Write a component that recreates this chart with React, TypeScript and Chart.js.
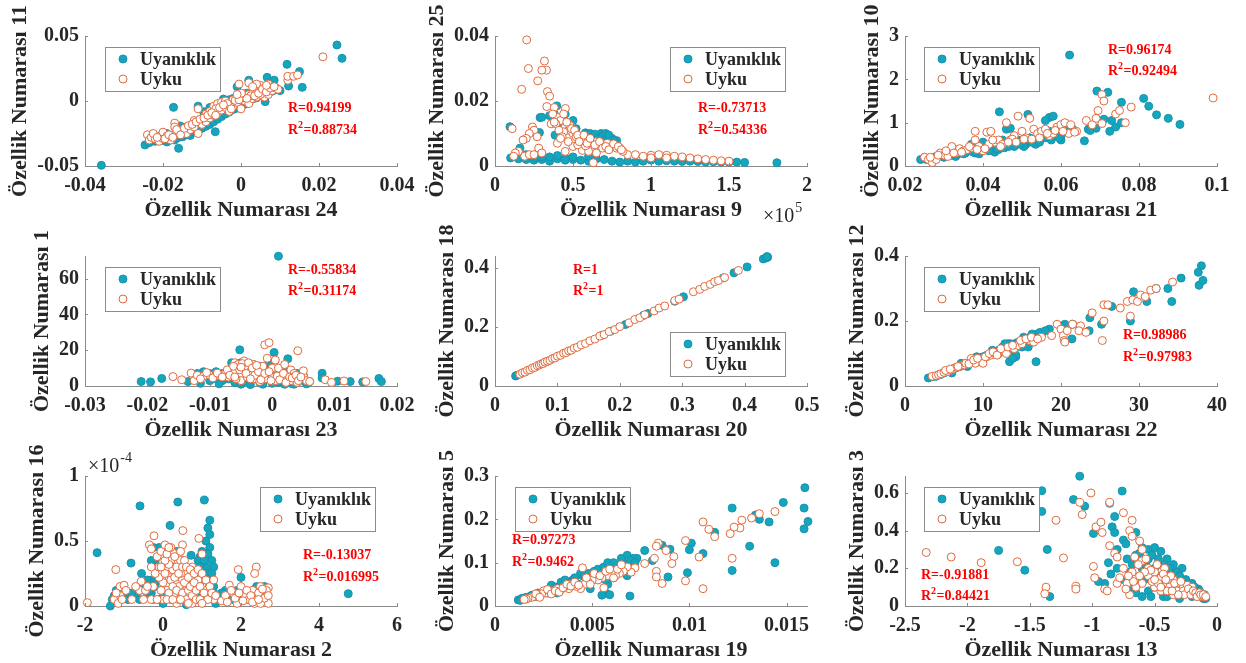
import React, { useEffect, useRef } from 'react';
import { Chart, registerables } from 'chart.js';
Chart.register(...registerables);

type Pt = [number, number];

// ---------------- DATA ----------------
const seriesNames = ['Uyanıklık', 'Uyku'];

const xTitles = ['Özellik Numarası 24', 'Özellik Numarası 9', 'Özellik Numarası 21', 'Özellik Numarası 23', 'Özellik Numarası 20', 'Özellik Numarası 22', 'Özellik Numarası 2', 'Özellik Numarası 19', 'Özellik Numarası 13'];
const yTitles = ['Özellik Numarası 11', 'Özellik Numarası 25', 'Özellik Numarası 10', 'Özellik Numarası 1', 'Özellik Numarası 18', 'Özellik Numarası 12', 'Özellik Numarası 16', 'Özellik Numarası 5', 'Özellik Numarası 3'];
const rValues = ['0.94199', '-0.73713', '0.96174', '-0.55834', '1', '0.98986', '-0.13037', '0.97273', '-0.91881'];
const r2Values = ['0.88734', '0.54336', '0.92494', '0.31174', '1', '0.97983', '0.016995', '0.9462', '0.84421'];

const xLimits: Pt[] = [[-0.04, 0.04], [0, 2e5], [0.02, 0.1], [-0.03, 0.02], [0, 0.5], [0, 40], [-2, 6], [0, 0.01605], [-2.5, 0]];
const yLimits: Pt[] = [[-0.05, 0.05], [0, 0.04], [0, 3], [0, 72.6], [0, 0.44], [0, 0.4], [0, 1e-4], [0, 0.3], [0, 0.69]];

const xTickValues = [[-0.04, -0.02, 0, 0.02, 0.04], [0, 0.5e5, 1e5, 1.5e5, 2e5], [0.02, 0.04, 0.06, 0.08, 0.1], [-0.03, -0.02, -0.01, 0, 0.01, 0.02], [0, 0.1, 0.2, 0.3, 0.4, 0.5], [0, 10, 20, 30, 40], [-2, 0, 2, 4, 6], [0, 0.005, 0.01, 0.015], [-2.5, -2, -1.5, -1, -0.5, 0]];
const xTickLabels = [['-0.04', '-0.02', '0', '0.02', '0.04'], ['0', '0.5', '1', '1.5', '2'], ['0.02', '0.04', '0.06', '0.08', '0.1'], ['-0.03', '-0.02', '-0.01', '0', '0.01', '0.02'], ['0', '0.1', '0.2', '0.3', '0.4', '0.5'], ['0', '10', '20', '30', '40'], ['-2', '0', '2', '4', '6'], ['0', '0.005', '0.01', '0.015'], ['-2.5', '-2', '-1.5', '-1', '-0.5', '0']];
const yTickValues = [[-0.05, 0, 0.05], [0, 0.02, 0.04], [0, 1, 2, 3], [0, 20, 40, 60], [0, 0.2, 0.4], [0, 0.2, 0.4], [0, 0.5e-4, 1e-4], [0, 0.1, 0.2, 0.3], [0, 0.2, 0.4, 0.6]];
const yTickLabels = [['-0.05', '0', '0.05'], ['0', '0.02', '0.04'], ['0', '1', '2', '3'], ['0', '20', '40', '60'], ['0', '0.2', '0.4'], ['0', '0.2', '0.4'], ['0', '0.5', '1'], ['0', '0.1', '0.2', '0.3'], ['0', '0.2', '0.4', '0.6']];
const axisExponents = ['', '5', '', '', '', '', '-4', '', ''];

const p1Awake: Pt[] = [
  [-0.0358, -0.0495], [0.0246, 0.0431], [0.0259, 0.0328], [0.0118, 0.0282], [0.015, 0.0226], [0.0157, 0.0105], [0.0122, 0.0115], [0.0067, 0.0182], [0.008, 0.015], [0.0085, 0.016], [0.002, 0.016], [-0.0173, -0.0049], [-0.0156, -0.0192], [-0.0246, -0.0338], [-0.016, -0.0364], [-0.0066, -0.0236], [0.0062, -0.0005], [-0.001, 0.011], [0.01, 0.008],
  [-0.0235, -0.032], [-0.022, -0.031], [-0.0205, -0.0305], [-0.019, -0.0315], [-0.018, -0.0295], [-0.017, -0.03], [-0.016, -0.028], [-0.015, -0.0275], [-0.014, -0.026], [-0.013, -0.0265], [-0.012, -0.0235], [-0.011, -0.0225], [-0.01, -0.021], [-0.009, -0.0195], [-0.008, -0.018], [-0.007, -0.016], [-0.006, -0.014], [-0.005, -0.012], [-0.004, -0.01], [-0.003, -0.0085], [-0.002, -0.0065], [-0.001, -0.0055], [0, -0.0035], [0.001, -0.0025], [0.002, -0.0005], [0.003, 0.0015], [0.004, 0.0025], [0.005, 0.0045], [0.006, 0.0055], [0.007, 0.0065], [0.008, 0.0075], [0.009, 0.009], [-0.0096, -0.0082], [-0.008, -0.005], [-0.005, -0.002], [-0.003, 0.001], [-0.004, -0.004], [0, 0.004], [-0.002, 0.002], [-0.011, -0.004], [-0.0045, 0.0015], [0.0015, 0.006], [0.0035, 0.008], [-0.014, -0.02], [-0.019, -0.025],
];
const p1Sleep: Pt[] = [
  [-0.024, -0.026], [-0.0235, -0.03], [-0.023, -0.028], [-0.022, -0.029], [-0.021, -0.031], [-0.021, -0.027], [-0.02, -0.029], [-0.02, -0.024], [-0.019, -0.027], [-0.018, -0.03], [-0.017, -0.017], [-0.017, -0.02], [-0.017, -0.026], [-0.016, -0.024], [-0.015, -0.023], [-0.014, -0.025], [-0.013, -0.022], [-0.012, -0.02], [-0.012, -0.015], [-0.011, -0.025], [-0.011, -0.006], [-0.01, -0.018], [-0.009, -0.016], [-0.009, -0.01], [-0.008, -0.013], [-0.008, -0.008], [-0.007, -0.011], [-0.007, -0.004], [-0.006, -0.009], [-0.006, -0.002], [-0.005, -0.007], [-0.005, -0.001], [-0.004, -0.005], [-0.004, 0], [-0.003, -0.003], [-0.003, -0.008], [-0.002, -0.004], [-0.002, 0.001], [-0.001, -0.001], [-0.001, 0.003], [0, 0.002], [0, -0.006], [-0.0005, 0.013], [0.001, 0.004], [0.001, 0], [0.002, 0.005], [0.002, -0.002], [0.003, 0.006], [0.003, 0.002], [0.004, 0.003], [0.004, 0.009], [0.005, 0.007], [0.005, 0.012], [0.006, 0.003], [0.006, 0.01], [0.007, 0.005], [0.007, 0.013], [0.008, 0.008], [0.009, 0.01], [0.0095, 0.009], [0.012, 0.016], [0.012, 0.019], [0.0135, 0.019], [0.0145, 0.02], [0.021, 0.034], [0.002, 0.014], [0.004, 0.013], [0.005, 0.005], [-0.0065, -0.006], [-0.0035, -0.002], [-0.0015, 0.0005], [0.0005, 0.0025], [0.0025, 0.004],
  [-0.0225, -0.025], [-0.0215, -0.028], [-0.0195, -0.029], [-0.0185, -0.026], [-0.0175, -0.028], [-0.0165, -0.022], [-0.0155, -0.026], [-0.0145, -0.021], [-0.0135, -0.019], [-0.0125, -0.018], [-0.0115, -0.016], [-0.0105, -0.014], [-0.0095, -0.013], [-0.0085, -0.011], [-0.0075, -0.009], [-0.0065, -0.011], [-0.0055, -0.005], [-0.0045, -0.003], [-0.0025, -0.006], [-0.0005, 0.001], [0.0015, 0.002], [0.0035, 0.004], [0.0045, 0.006], [0.0055, 0.009], [0.0065, 0.007], [0.0075, 0.01], [0.0085, 0.011], [0.0001, 0.006], [-0.001, 0.005], [0.003, 0.011], [0.0065, 0.012],
];

const p2Awake: Pt[] = [
  [0.096e5, 0.0121], [0.1e5, 0.0025], [0.289e5, 0.0149], [0.3e5, 0.015], [0.285e5, 0.0103], [0.16e5, 0.0055], [0.396e5, 0.0185], [0.38e5, 0.016], [0.45e5, 0.016], [0.385e5, 0.0095], [0.5e5, 0.014],
  [0.55e5, 0.009], [0.58e5, 0.0102], [0.6e5, 0.0098], [0.62e5, 0.0095], [0.63e5, 0.0085], [0.65e5, 0.0092], [0.68e5, 0.01], [0.7e5, 0.0095], [0.72e5, 0.0088], [0.75e5, 0.0085], [0.78e5, 0.0078], [1.807e5, 0.001],
  [0.15e5, 0.0022], [0.2e5, 0.002], [0.25e5, 0.0018], [0.3e5, 0.002], [0.35e5, 0.0015], [0.4e5, 0.0022], [0.45e5, 0.0025], [0.5e5, 0.002], [0.55e5, 0.0018], [0.6e5, 0.0015], [0.65e5, 0.0022], [0.7e5, 0.002], [0.75e5, 0.0015], [0.8e5, 0.0012], [0.85e5, 0.0015], [0.9e5, 0.0012], [0.95e5, 0.0015], [1.0e5, 0.0018], [1.05e5, 0.0015], [1.1e5, 0.0016], [1.15e5, 0.0015], [1.2e5, 0.0014], [1.25e5, 0.0015], [1.3e5, 0.0014], [1.35e5, 0.0012], [1.4e5, 0.0013], [1.45e5, 0.0012], [1.5e5, 0.0012], [1.55e5, 0.0012], [1.6e5, 0.0011], [0.2e5, 0.0035], [0.4e5, 0.0032], [0.6e5, 0.003], [0.45e5, 0.0018], [0.3e5, 0.0028], [0.25e5, 0.0026], [0.35e5, 0.0028], [0.5e5, 0.0028],
  [0.57e5, 0.0095], [0.59e5, 0.0088], [0.61e5, 0.01], [0.64e5, 0.0098], [0.66e5, 0.0085], [0.69e5, 0.0092], [0.71e5, 0.01], [0.73e5, 0.0095], [0.76e5, 0.008], [0.42e5, 0.012], [0.48e5, 0.012], [0.52e5, 0.0115], [0.35e5, 0.0155],
];
const p2Sleep: Pt[] = [
  [0.203e5, 0.0388], [0.214e5, 0.03], [0.171e5, 0.0236], [0.317e5, 0.0323], [0.33e5, 0.0295], [0.3e5, 0.0295], [0.274e5, 0.0262], [0.336e5, 0.0229], [0.35e5, 0.0215], [0.332e5, 0.0183], [0.38e5, 0.018], [0.451e5, 0.0177], [0.24e5, 0.012], [0.25e5, 0.011], [0.22e5, 0.01], [0.27e5, 0.009], [0.28e5, 0.0055], [0.36e5, 0.013], [0.4e5, 0.015], [0.42e5, 0.014], [0.45e5, 0.012], [0.47e5, 0.011], [0.48e5, 0.0125], [0.5e5, 0.01], [0.52e5, 0.009], [0.55e5, 0.0085], [0.6e5, 0.008], [0.62e5, 0.007], [0.65e5, 0.0075], [0.68e5, 0.006], [0.7e5, 0.0065], [0.72e5, 0.007], [0.75e5, 0.006], [0.78e5, 0.0055], [0.8e5, 0.0055], [0.4e5, 0.007], [0.45e5, 0.0045], [0.5e5, 0.006], [0.56e5, 0.0048], [0.6e5, 0.0045], [0.65e5, 0.004], [0.63e5, 0.001], [0.85e5, 0.0035], [0.9e5, 0.0035], [0.95e5, 0.003], [1.0e5, 0.0033], [1.05e5, 0.0035], [1.1e5, 0.0033], [1.15e5, 0.003], [1.2e5, 0.0028], [1.25e5, 0.0025], [1.3e5, 0.0022], [1.35e5, 0.002], [1.4e5, 0.0018], [1.45e5, 0.0016], [1.5e5, 0.0015], [1.0e5, 0.0025], [1.1e5, 0.0025], [0.15e5, 0.0045], [0.13e5, 0.004], [0.12e5, 0.003], [0.19e5, 0.003], [0.2e5, 0.0085], [0.18e5, 0.008], [0.22e5, 0.0035], [0.25e5, 0.0035], [0.3e5, 0.004], [0.11e5, 0.0115], [0.44e5, 0.0105], [0.53e5, 0.0065], [0.58e5, 0.0062], [0.82e5, 0.0045],
  [0.37e5, 0.016], [0.39e5, 0.013], [0.41e5, 0.011], [0.43e5, 0.009], [0.44e5, 0.016], [0.46e5, 0.0135], [0.49e5, 0.0115], [0.51e5, 0.011], [0.53e5, 0.0095], [0.54e5, 0.0075], [0.57e5, 0.0095], [0.59e5, 0.007], [0.61e5, 0.0085], [0.64e5, 0.0065], [0.67e5, 0.0075], [0.69e5, 0.0055], [0.71e5, 0.006], [0.73e5, 0.005], [0.76e5, 0.0068], [0.79e5, 0.006], [0.81e5, 0.005], [0.42e5, 0.0085], [0.47e5, 0.0075], [0.38e5, 0.0135],
];

const p3Awake: Pt[] = [
  [0.0622, 2.56], [0.0692, 1.73], [0.072, 1.7], [0.0755, 1.47], [0.0812, 1.56], [0.0825, 1.38], [0.0845, 1.18], [0.0875, 1.1], [0.0905, 0.96], [0.0442, 1.25], [0.0515, 1.19], [0.057, 1.12], [0.058, 1.15], [0.056, 1.05], [0.062, 0.9], [0.06, 0.6], [0.066, 0.58], [0.067, 0.85], [0.069, 0.87], [0.0725, 0.8], [0.074, 0.9], [0.071, 1.08], [0.0755, 1.0], [0.073, 1.05], [0.0675, 0.82],
  [0.024, 0.15], [0.025, 0.2], [0.026, 0.18], [0.027, 0.1], [0.028, 0.22], [0.029, 0.25], [0.03, 0.2], [0.031, 0.3], [0.032, 0.25], [0.033, 0.22], [0.034, 0.3], [0.035, 0.28], [0.036, 0.35], [0.037, 0.5], [0.038, 0.3], [0.039, 0.28], [0.04, 0.55], [0.041, 0.4], [0.042, 0.45], [0.043, 0.32], [0.044, 0.38], [0.045, 0.6], [0.046, 0.85], [0.047, 0.5], [0.048, 0.45], [0.049, 0.6], [0.05, 0.55], [0.051, 0.5], [0.052, 0.65], [0.053, 0.55], [0.054, 0.6], [0.055, 0.75], [0.056, 0.65], [0.057, 0.8], [0.058, 0.72], [0.059, 0.85], [0.06, 0.7], [0.063, 0.85], [0.047, 0.87], [0.0455, 0.42], [0.0505, 0.45], [0.0535, 0.5],
  [0.0255, 0.15], [0.0275, 0.2], [0.0295, 0.22], [0.0315, 0.25], [0.0335, 0.28], [0.0355, 0.3], [0.0375, 0.32], [0.0395, 0.35], [0.0415, 0.35], [0.0435, 0.4], [0.0465, 0.45], [0.0495, 0.5], [0.0525, 0.55], [0.0545, 0.55], [0.0575, 0.6], [0.0595, 0.65],
];
const p3Sleep: Pt[] = [
  [0.025, 0.2], [0.026, 0.15], [0.027, 0.08], [0.028, 0.15], [0.029, 0.3], [0.03, 0.25], [0.031, 0.22], [0.032, 0.45], [0.033, 0.3], [0.034, 0.4], [0.035, 0.35], [0.036, 0.38], [0.037, 0.42], [0.038, 0.6], [0.038, 0.8], [0.039, 0.45], [0.04, 0.35], [0.041, 0.78], [0.042, 0.8], [0.043, 0.55], [0.044, 0.6], [0.045, 0.5], [0.046, 1.0], [0.047, 0.6], [0.048, 0.7], [0.049, 1.15], [0.05, 0.8], [0.051, 0.65], [0.052, 1.1], [0.053, 0.85], [0.054, 0.75], [0.055, 0.8], [0.056, 0.85], [0.057, 0.7], [0.058, 0.75], [0.059, 0.9], [0.06, 0.95], [0.061, 1.0], [0.062, 0.75], [0.064, 0.8], [0.0665, 1.05], [0.068, 0.95], [0.069, 1.1], [0.0695, 1.28], [0.0705, 0.98], [0.0705, 1.65], [0.071, 1.5], [0.074, 1.2], [0.075, 1.28], [0.0765, 1.0], [0.078, 1.36], [0.099, 1.57], [0.0415, 0.5], [0.0475, 0.62], [0.0525, 0.62],
  [0.0265, 0.2], [0.0285, 0.25], [0.0305, 0.35], [0.0325, 0.3], [0.0345, 0.32], [0.0365, 0.45], [0.0385, 0.38], [0.0405, 0.4], [0.0425, 0.6], [0.0445, 0.45], [0.0465, 0.55], [0.0485, 0.55], [0.0505, 0.62], [0.0545, 0.65], [0.0565, 0.75], [0.0585, 0.82], [0.0605, 0.8], [0.0625, 0.95], [0.0635, 0.78],
];

const p4Awake: Pt[] = [
  [0.001, 72.5], [-0.021, 2.5], [-0.0195, 2.3], [-0.0177, 4.2], [-0.0135, 2.5], [-0.0052, 20.2], [0.0003, 18.7], [0.0025, 15.2], [-0.0005, 13], [0.008, 7.1], [0.008, 4.5], [0.0105, 2.7], [0.0125, 2.5], [0.0145, 2.3], [0.0171, 4.2], [0.0175, 2.5], [0.006, 2.5],
  [-0.012, 7], [-0.011, 8], [-0.01, 7], [-0.009, 8], [-0.008, 3], [-0.008, 7], [-0.007, 8], [-0.006, 12], [-0.006, 2], [-0.005, 13], [-0.005, 1], [-0.004, 11], [-0.004, 3], [-0.003, 12], [-0.003, 6], [-0.002, 11], [-0.002, 2], [-0.001, 9], [-0.001, 4], [0, 7], [0, 1.5], [0.001, 5], [0.001, 2], [0.002, 8], [0.002, 3], [0.003, 6], [0.003, 1.5], [0.004, 7], [0.004, 2], [0.005, 3], [-0.007, 4], [-0.0045, 5],
  [-0.01, 3], [-0.009, 4], [-0.0065, 13], [-0.0055, 8], [-0.0045, 2.5], [-0.0025, 4], [0.0005, 9], [0.0045, 4], [0.005, 6], [0.0058, 2], [-0.0015, 1], [0.002, 1], [0.0035, 1], [-0.0115, 1.5], [-0.0085, 1.2], [-0.0035, 0.8], [0.0055, 1.2],
];
const p4Sleep: Pt[] = [
  [-0.0159, 5.25], [-0.0145, 3.5], [-0.013, 7.2], [-0.0125, 3], [-0.012, 6], [-0.011, 5.5], [-0.01, 6], [-0.009, 6.5], [-0.0085, 5.8], [-0.0075, 7], [-0.007, 5], [-0.0065, 10], [-0.006, 13], [-0.006, 8], [-0.0055, 12], [-0.005, 6], [-0.005, 3], [-0.0045, 14], [-0.004, 10], [-0.004, 5], [-0.0035, 8], [-0.003, 12], [-0.003, 4], [-0.0025, 9], [-0.002, 6], [-0.002, 2.5], [-0.0015, 11], [-0.001, 4], [-0.0012, 23], [-0.0005, 24.2], [-0.0008, 15.5], [0, 10], [0, 5], [0.0005, 14.5], [0.0005, 3], [0.001, 7], [0.001, 10], [0.0015, 5], [0.002, 4], [0.002, 12], [0.0025, 6], [0.003, 3], [0.003, 9], [0.0035, 7], [0.004, 4], [0.004, 2], [0.0041, 19.7], [0.005, 5.5], [0.005, 8.5], [0.0055, 3], [0.006, 2.5], [0.0085, 3.5], [0.0095, 2], [0.0115, 2.8], [0.015, 2.5],
  [-0.0115, 4], [-0.0105, 7.5], [-0.0095, 4.5], [-0.0088, 7.2], [-0.008, 5], [-0.0072, 9], [-0.0068, 6], [-0.0062, 11], [-0.0058, 4], [-0.0052, 9], [-0.0048, 12.5], [-0.0042, 7], [-0.0038, 13], [-0.0032, 10], [-0.0028, 6], [-0.0022, 8], [-0.0018, 3.5], [-0.0012, 7], [-0.0005, 8], [-0.0002, 3], [0.0008, 5.5], [0.0012, 3.5], [0.0018, 7], [0.0022, 2], [0.0028, 5], [0.0032, 4.5], [0.0038, 6], [0.0042, 3], [0.0046, 5], [-0.006, 5], [-0.005, 10.5], [-0.0035, 4], [-0.0025, 11.5],
];

const p5Awake: Pt[] = [
  [0.033, 0.034], [0.035, 0.036], [0.085, 0.084], [0.172, 0.172], [0.185, 0.185], [0.209, 0.208], [0.238, 0.239], [0.245, 0.245], [0.288, 0.287], [0.302, 0.302], [0.366, 0.366], [0.383, 0.383], [0.404, 0.403], [0.43, 0.43], [0.434, 0.433], [0.437, 0.436], [0.436, 0.438],
];
const p5Sleep: Pt[] = [
  [0.04, 0.04], [0.044, 0.045], [0.048, 0.047], [0.052, 0.053], [0.056, 0.055], [0.06, 0.061], [0.064, 0.063], [0.068, 0.069], [0.071, 0.071], [0.074, 0.075], [0.077, 0.076], [0.08, 0.081], [0.084, 0.084], [0.088, 0.087], [0.092, 0.093], [0.096, 0.095], [0.1, 0.101], [0.105, 0.104], [0.11, 0.111], [0.114, 0.113], [0.118, 0.119], [0.122, 0.121], [0.127, 0.128], [0.132, 0.131], [0.138, 0.139], [0.145, 0.144], [0.152, 0.153], [0.16, 0.159], [0.168, 0.169], [0.175, 0.174], [0.183, 0.184], [0.192, 0.191], [0.2, 0.201], [0.215, 0.214], [0.224, 0.225], [0.232, 0.231], [0.24, 0.241], [0.255, 0.254], [0.263, 0.264], [0.272, 0.271], [0.288, 0.289], [0.295, 0.294], [0.318, 0.319], [0.328, 0.327], [0.336, 0.337], [0.345, 0.344], [0.352, 0.353], [0.358, 0.357], [0.368, 0.367], [0.39, 0.391],
];

const p6Awake: Pt[] = [
  [38, 0.37], [37.6, 0.35], [37.7, 0.31], [38.2, 0.325], [35.4, 0.332], [33.7, 0.3], [34.2, 0.26], [32.2, 0.3], [31, 0.26], [29.3, 0.29], [28.9, 0.2], [26.5, 0.245], [25.2, 0.19], [23.7, 0.21], [23.6, 0.17], [21.4, 0.145], [20.5, 0.19], [21.5, 0.19], [16.8, 0.075], [13.4, 0.075], [14.2, 0.09], [18.5, 0.175], [17.5, 0.16], [20, 0.18],
  [3, 0.025], [3.5, 0.028], [4, 0.03], [4.5, 0.035], [5, 0.04], [5.5, 0.045], [6, 0.05], [6.5, 0.055], [7, 0.06], [7.5, 0.065], [8, 0.07], [8.5, 0.075], [9, 0.08], [9.5, 0.085], [10, 0.09], [10.5, 0.095], [11, 0.1], [11.5, 0.1], [12, 0.11], [12.5, 0.12], [13, 0.12], [13.5, 0.13], [14, 0.13], [14.5, 0.135], [15, 0.14], [15.5, 0.14], [16, 0.15], [16.5, 0.155], [17, 0.16], [6, 0.04], [8, 0.06], [10, 0.08], [12, 0.1], [14, 0.11], [15, 0.12],
  [7.2, 0.07], [9.2, 0.09], [11.2, 0.11], [13.2, 0.13], [15.2, 0.15], [16.3, 0.16], [17.3, 0.165], [18, 0.17], [15.8, 0.12], [14.2, 0.095], [13.8, 0.085], [12.8, 0.13],
];
const p6Sleep: Pt[] = [
  [3.5, 0.03], [4, 0.032], [4.3, 0.035], [4.6, 0.038], [5, 0.042], [5.5, 0.045], [6, 0.05], [6.3, 0.055], [6.6, 0.058], [7, 0.06], [7.3, 0.062], [7.6, 0.065], [8, 0.07], [8.5, 0.075], [9, 0.08], [9.5, 0.075], [10, 0.085], [10.5, 0.09], [11, 0.095], [11.5, 0.1], [12, 0.105], [12.5, 0.11], [13, 0.1], [13.5, 0.12], [14, 0.115], [14.5, 0.125], [15, 0.13], [16, 0.14], [16.5, 0.135], [17.5, 0.15], [18.8, 0.155], [19.5, 0.19], [20, 0.175], [20.3, 0.155], [20.4, 0.14], [20.5, 0.135], [20.8, 0.17], [21.5, 0.19], [22.5, 0.185], [22.3, 0.17], [23.2, 0.165], [24, 0.225], [25.3, 0.14], [25.5, 0.2], [25.5, 0.25], [26, 0.25], [27.6, 0.24], [28.5, 0.26], [28.9, 0.215], [29.2, 0.265], [29.8, 0.26], [30.2, 0.28], [30.8, 0.275], [31.5, 0.295], [32.2, 0.3], [34.3, 0.32], [9, 0.07], [10, 0.07], [8.5, 0.085],
  [5.2, 0.048], [5.8, 0.052], [6.8, 0.06], [7.8, 0.07], [8.2, 0.068], [8.8, 0.08], [9.3, 0.085], [10.3, 0.09], [10.8, 0.1], [11.3, 0.105], [11.8, 0.095], [12.3, 0.115], [13.2, 0.12], [13.8, 0.125], [14.8, 0.14], [15.5, 0.145], [16.2, 0.15], [17, 0.145],
];

const p7Awake: Pt[] = [
  [-1.69, 0.41e-4], [-0.59, 0.77e-4], [0.38, 0.8e-4], [1.06, 0.815e-4], [0.18, 0.62e-4], [-0.82, 0.33e-4], [-0.55, 0.25e-4], [1.2, 0.66e-4], [1.15, 0.6e-4], [1.2, 0.55e-4], [1.1, 0.5e-4], [1.2, 0.45e-4], [1.15, 0.4e-4], [1.0, 0.42e-4], [0.95, 0.38e-4], [1.25, 0.35e-4], [1.3, 0.3e-4], [1.1, 0.3e-4], [1.05, 0.25e-4], [0.9, 0.35e-4], [0.72, 0.39e-4], [0.35, 0.42e-4], [-0.1, 0.45e-4], [-0.2, 0.35e-4], [2.0, 0.22e-4], [4.75, 0.095e-4],
  [-1.3, 0.05e-4], [-1.35, 0.0], [-1.2, 0.12e-4], [-1.1, 0.08e-4], [-0.9, 0.05e-4], [-0.7, 0.1e-4], [-0.6, 0.05e-4], [-0.5, 0.15e-4], [-0.4, 0.08e-4], [-0.3, 0.2e-4], [-0.2, 0.15e-4], [-0.1, 0.05e-4], [0, 0.1e-4], [0.5, 0.35e-4], [0.6, 0.2e-4], [0.8, 0.15e-4], [0.9, 0.1e-4], [1.0, 0.05e-4], [1.2, 0.2e-4], [1.3, 0.15e-4], [1.4, 0.05e-4], [1.6, 0.12e-4], [1.7, 0.08e-4], [1.8, 0.05e-4], [2.1, 0.1e-4], [2.2, 0.05e-4], [2.4, 0.15e-4], [2.5, 0.08e-4], [2.6, 0.15e-4],
  [-0.3, 0.35e-4], [-0.25, 0.45e-4], [-0.2, 0.3e-4], [-0.15, 0.2e-4], [-0.3, 0.1e-4], [-0.25, 0.05e-4], [-0.4, 0.2e-4], [-0.35, 0.12e-4], [0.95, 0.3e-4], [1.05, 0.35e-4], [1.15, 0.25e-4], [1.25, 0.25e-4], [1.3, 0.1e-4], [1.0, 0.2e-4], [1.2, 0.1e-4], [0.9, 0.05e-4], [1.35, 0.02e-4], [-1.0, 0.1e-4], [-0.8, 0.1e-4], [-1.25, 0.08e-4], [-0.6, 0.12e-4], [1.5, 0.1e-4], [1.9, 0.12e-4], [2.0, 0.05e-4], [2.3, 0.1e-4], [2.5, 0.12e-4], [0.3, 0.05e-4], [0, 0.02e-4], [0.6, 0.01e-4],
];
const p7Sleep: Pt[] = [
  [-1.94, 0.026e-4], [-1.21, 0.28e-4], [-1.25, 0.05e-4], [-1.1, 0.15e-4], [-1.0, 0.16e-4], [-1.1, 0.08e-4], [-1.15, 0.02e-4], [-0.56, 0.19e-4], [-0.6, 0.12e-4], [-0.35, 0.47e-4], [-0.3, 0.44e-4], [-0.23, 0.54e-4], [-0.15, 0.38e-4], [-0.05, 0.42e-4], [0.05, 0.47e-4], [0.1, 0.3e-4], [0.15, 0.22e-4], [0.2, 0.35e-4], [0.25, 0.41e-4], [0.3, 0.3e-4], [0.4, 0.38e-4], [0.45, 0.35e-4], [0.5, 0.47e-4], [0.51, 0.58e-4], [0.92, 0.52e-4], [1.0, 0.4e-4], [0.75, 0.3e-4], [0.6, 0.25e-4], [0.5, 0.2e-4], [0.4, 0.15e-4], [0.3, 0.1e-4], [0.2, 0.05e-4], [0.1, 0.12e-4], [0, 0.18e-4], [-0.1, 0.22e-4], [0, 0.05e-4], [0.35, 0.02e-4], [0.7, 0.05e-4], [0.8, 0.1e-4], [0.9, 0.2e-4], [1.0, 0.15e-4], [1.1, 0.12e-4], [1.2, 0.08e-4], [1.3, 0.05e-4], [0.6, 0.12e-4], [0.45, 0.25e-4], [0.25, 0.28e-4], [0.15, 0.32e-4], [-0.25, 0.15e-4], [-0.45, 0.12e-4], [-0.3, 0.05e-4], [0.55, 0.05e-4], [0.75, 0.02e-4], [1.5, 0.04e-4], [1.7, 0.16e-4], [1.93, 0.28e-4], [2.0, 0.15e-4], [1.8, 0.1e-4], [2.1, 0.08e-4], [2.2, 0.05e-4], [2.3, 0.12e-4], [2.39, 0.3e-4], [2.35, 0.25e-4], [2.5, 0.15e-4], [2.6, 0.1e-4], [2.7, 0.14e-4], [2.55, 0.05e-4], [2.7, 0.02e-4], [2.35, 0.02e-4], [1.9, 0.02e-4], [1.6, 0.08e-4],
  [-0.3, 0.3e-4], [-0.2, 0.25e-4], [-0.1, 0.3e-4], [-0.05, 0.12e-4], [0.05, 0.25e-4], [0.05, 0.35e-4], [0.1, 0.4e-4], [0.15, 0.1e-4], [0.2, 0.45e-4], [0.2, 0.2e-4], [0.25, 0.15e-4], [0.3, 0.38e-4], [0.3, 0.22e-4], [0.35, 0.3e-4], [0.35, 0.12e-4], [0.4, 0.25e-4], [0.4, 0.05e-4], [0.45, 0.42e-4], [0.5, 0.3e-4], [0.5, 0.1e-4], [0.55, 0.35e-4], [0.55, 0.18e-4], [0.6, 0.3e-4], [0.6, 0.05e-4], [0.65, 0.22e-4], [0.65, 0.12e-4], [0.7, 0.28e-4], [0.7, 0.15e-4], [0.75, 0.08e-4], [0.8, 0.25e-4], [0.8, 0.18e-4], [0.85, 0.12e-4], [0.85, 0.05e-4], [0.9, 0.28e-4], [0.95, 0.15e-4], [0.95, 0.05e-4], [1.0, 0.25e-4], [1.05, 0.1e-4], [1.1, 0.2e-4], [1.15, 0.05e-4], [1.2, 0.15e-4], [1.25, 0.1e-4], [1.3, 0.2e-4], [1.35, 0.08e-4], [0.1, 0.05e-4], [0.25, 0.05e-4], [-0.15, 0.05e-4], [-0.05, 0.3e-4], [0.15, 0.45e-4], [0.45, 0.05e-4], [0.65, 0.02e-4], [1.0, 0.02e-4],
  [1.65, 0.03e-4], [1.75, 0.12e-4], [1.85, 0.06e-4], [1.95, 0.1e-4], [2.05, 0.04e-4], [2.15, 0.12e-4], [2.25, 0.08e-4], [2.3, 0.03e-4], [2.45, 0.1e-4], [2.5, 0.02e-4], [2.6, 0.06e-4], [2.65, 0.12e-4], [2.7, 0.08e-4], [2.45, 0.05e-4], [2.55, 0.13e-4],
  [-1.2, 0.1e-4], [-1.05, 0.05e-4], [-0.95, 0.12e-4], [-0.8, 0.05e-4], [-0.7, 0.15e-4], [-0.5, 0.05e-4], [-0.4, 0.15e-4],
];

const p8Awake: Pt[] = [
  [0.01594, 0.273], [0.01483, 0.239], [0.0122, 0.226], [0.0159, 0.226], [0.0161, 0.195], [0.0159, 0.178], [0.0141, 0.194], [0.0136, 0.2], [0.0134, 0.21], [0.0113, 0.17], [0.0131, 0.138], [0.0122, 0.082], [0.0144, 0.1], [0.0107, 0.121], [0.0101, 0.145], [0.01, 0.13], [0.0099, 0.077], [0.009, 0.131], [0.0089, 0.067], [0.0086, 0.14], [0.0081, 0.105], [0.0077, 0.128], [0.00694, 0.023], [0.0073, 0.11], [0.0071, 0.11], [0.0068, 0.117], [0.0066, 0.1], [0.0064, 0.09], [0.0062, 0.095], [0.006, 0.09], [0.0058, 0.05], [0.0057, 0.03], [0.0059, 0.026], [0.0055, 0.025], [0.0068, 0.07], [0.0052, 0.08], [0.005, 0.075], [0.0047, 0.06], [0.0045, 0.07], [0.0043, 0.05], [0.004, 0.06], [0.0038, 0.055], [0.0035, 0.05], [0.0033, 0.045], [0.003, 0.045], [0.0028, 0.04], [0.0026, 0.035], [0.0024, 0.03], [0.0022, 0.03], [0.002, 0.025], [0.0018, 0.022], [0.0016, 0.02], [0.0014, 0.018], [0.0012, 0.014], [0.0013, 0.013], [0.0032, 0.03], [0.0049, 0.04], [0.0044, 0.075], [0.0055, 0.085], [0.0061, 0.065], [0.0057, 0.06],
  [0.0019, 0.025], [0.0021, 0.022], [0.0025, 0.032], [0.0027, 0.03], [0.0029, 0.048], [0.0031, 0.04], [0.0034, 0.055], [0.0036, 0.06], [0.0041, 0.065], [0.0046, 0.07], [0.0048, 0.075], [0.0051, 0.08], [0.0053, 0.085], [0.0056, 0.09], [0.0058, 0.1], [0.0061, 0.1], [0.0065, 0.11], [0.007, 0.105], [0.0072, 0.1],
];
const p8Sleep: Pt[] = [
  [0.0144, 0.218], [0.0136, 0.213], [0.0132, 0.203], [0.0127, 0.198], [0.0126, 0.18], [0.0123, 0.182], [0.0121, 0.167], [0.0122, 0.11], [0.0113, 0.16], [0.011, 0.177], [0.0107, 0.194], [0.0107, 0.04], [0.0105, 0.113], [0.0098, 0.151], [0.0098, 0.058], [0.0092, 0.114], [0.0091, 0.098], [0.0088, 0.128], [0.0086, 0.052], [0.0084, 0.145], [0.0083, 0.138], [0.0083, 0.08], [0.0083, 0.067], [0.0082, 0.11], [0.0077, 0.098], [0.0072, 0.088], [0.007, 0.078], [0.0068, 0.09], [0.0066, 0.08], [0.0064, 0.075], [0.0062, 0.07], [0.006, 0.08], [0.0058, 0.07], [0.0056, 0.042], [0.0055, 0.065], [0.0053, 0.06], [0.005, 0.06], [0.0048, 0.055], [0.0046, 0.05], [0.0045, 0.088], [0.0044, 0.04], [0.0042, 0.045], [0.004, 0.05], [0.0038, 0.04], [0.0036, 0.045], [0.0034, 0.038], [0.0032, 0.04], [0.003, 0.035], [0.0028, 0.032], [0.0026, 0.03], [0.0025, 0.035], [0.0024, 0.028], [0.0022, 0.025], [0.002, 0.022], [0.0019, 0.02], [0.0017, 0.018], [0.0016, 0.016], [0.0015, 0.015],
  [0.0021, 0.028], [0.0023, 0.02], [0.0027, 0.038], [0.0029, 0.028], [0.0031, 0.035], [0.0033, 0.032], [0.0035, 0.042], [0.0037, 0.05], [0.0039, 0.046], [0.0041, 0.055], [0.0043, 0.048], [0.0047, 0.065], [0.0049, 0.05], [0.0051, 0.075], [0.0054, 0.07], [0.0057, 0.08], [0.0059, 0.085], [0.0061, 0.065], [0.0063, 0.085], [0.0065, 0.095],
];

const p9Awake: Pt[] = [
  [-1.1, 0.689], [-1.404, 0.612], [-1.404, 0.502], [-1.15, 0.565], [-1.06, 0.53], [-0.76, 0.61], [-1.75, 0.295], [-1.54, 0.19], [-1.36, 0.3], [-1.34, 0.05], [-0.99, 0.385], [-0.86, 0.545], [-0.82, 0.475], [-0.84, 0.42], [-0.8, 0.3], [-0.82, 0.39], [-0.75, 0.35], [-0.73, 0.33], [-0.65, 0.39], [-0.6, 0.31], [-0.55, 0.3], [-0.5, 0.31], [-0.45, 0.29], [-0.4, 0.25], [-0.35, 0.2], [-0.28, 0.2], [-0.87, 0.23], [-0.9, 0.12], [-0.95, 0.13], [-0.85, 0.17], [-0.7, 0.18], [-0.65, 0.27], [-0.6, 0.2], [-0.55, 0.25], [-0.5, 0.2], [-0.45, 0.22], [-0.4, 0.18], [-0.35, 0.15], [-0.3, 0.12], [-0.25, 0.1], [-0.2, 0.08], [-0.15, 0.06], [-0.1, 0.04], [-0.7, 0.1], [-0.65, 0.07], [-0.6, 0.05], [-0.5, 0.1], [-0.43, 0.05], [-0.4, 0.1], [-0.3, 0.07], [-0.25, 0.14], [-0.2, 0.12], [-0.15, 0.09], [-0.12, 0.05], [-0.58, 0.14], [-0.48, 0.16], [-0.38, 0.12], [-0.33, 0.1],
  [-0.55, 0.08], [-0.45, 0.13], [-0.35, 0.22], [-0.32, 0.18], [-0.28, 0.14], [-0.22, 0.1], [-0.18, 0.1], [-0.14, 0.08], [-0.1, 0.06], [-0.62, 0.28], [-0.57, 0.22], [-0.52, 0.27], [-0.47, 0.25], [-0.42, 0.22], [-0.38, 0.2], [-0.3, 0.16], [-0.68, 0.22], [-0.72, 0.25], [-0.77, 0.14], [-0.8, 0.2], [-0.63, 0.12], [-0.53, 0.05], [-0.4, 0.05], [-0.3, 0.04], [-0.2, 0.05], [-0.11, 0.04], [-0.09, 0.04],
];
const p9Sleep: Pt[] = [
  [-2.33, 0.284], [-2.13, 0.26], [-1.89, 0.23], [-1.6, 0.235], [-1.37, 0.1], [-1.38, 0.065], [-1.29, 0.455], [-1.23, 0.255], [-1.13, 0.105], [-1.13, 0.09], [-1.1, 0.55], [-1.08, 0.485], [-1.01, 0.6], [-0.97, 0.42], [-0.93, 0.445], [-0.92, 0.39], [-0.99, 0.21], [-0.98, 0.15], [-0.9, 0.09], [-0.86, 0.55], [-0.86, 0.32], [-0.82, 0.28], [-0.8, 0.26], [-0.75, 0.495], [-0.68, 0.455], [-0.7, 0.4], [-0.68, 0.37], [-0.62, 0.345], [-0.6, 0.3], [-0.66, 0.26], [-0.6, 0.24], [-0.55, 0.2], [-0.75, 0.2], [-0.72, 0.12], [-0.7, 0.06], [-0.65, 0.15], [-0.6, 0.12], [-0.55, 0.16], [-0.5, 0.18], [-0.45, 0.15], [-0.5, 0.1], [-0.45, 0.08], [-0.4, 0.12], [-0.38, 0.1], [-0.35, 0.14], [-0.33, 0.09], [-0.3, 0.1], [-0.28, 0.07], [-0.25, 0.09], [-0.22, 0.08], [-0.2, 0.07], [-0.18, 0.06], [-0.15, 0.06], [-0.12, 0.05], [-0.1, 0.05], [-0.42, 0.2], [-0.48, 0.22], [-0.57, 0.25], [-0.63, 0.22], [-0.68, 0.18], [-0.65, 0.1], [-0.88, 0.08], [-0.8, 0.12], [-0.35, 0.06], [-0.3, 0.12], [-0.27, 0.1], [-0.24, 0.11], [-0.2, 0.1],
  [-0.52, 0.13], [-0.47, 0.12], [-0.43, 0.17], [-0.4, 0.08], [-0.37, 0.16], [-0.34, 0.12], [-0.32, 0.08], [-0.29, 0.13], [-0.27, 0.08], [-0.26, 0.06], [-0.23, 0.09], [-0.21, 0.06], [-0.19, 0.08], [-0.17, 0.07], [-0.16, 0.05], [-0.14, 0.07], [-0.13, 0.06], [-0.11, 0.06], [-0.09, 0.05], [-0.31, 0.06], [-0.36, 0.08], [-0.41, 0.14], [-0.45, 0.1], [-0.5, 0.14], [-0.53, 0.19], [-0.58, 0.18], [-0.62, 0.16], [-0.67, 0.13], [-0.71, 0.16], [-0.78, 0.15], [-0.73, 0.09],
];

const awakeSeries: Pt[][] = [p1Awake, p2Awake, p3Awake, p4Awake, p5Awake, p6Awake, p7Awake, p8Awake, p9Awake];
const sleepSeries: Pt[][] = [p1Sleep, p2Sleep, p3Sleep, p4Sleep, p5Sleep, p6Sleep, p7Sleep, p8Sleep, p9Sleep];

// ---------------- LAYOUT & STYLE ----------------
const FONT = '"Liberation Serif", "Times New Roman", serif';
const TEXT = '#262626';
const AXIS = '#8a8a8a';
const TEAL_FILL = '#12a7bb';
const TEAL_EDGE = '#1b91b3';
const ORANGE = '#e06a3c';

// plot-area rectangles [left, top, right, bottom] in page pixels
const plotRects = [
  [85, 36, 397, 166], [495, 36, 807, 166], [905, 36, 1217, 166],
  [85, 256, 397, 386], [495, 256, 807, 386], [905, 256, 1217, 386],
  [85, 476, 397, 606], [495, 476, 807, 606], [905, 476, 1217, 606],
];
// legend box top-left
const legendPos = [
  [105, 47], [670, 47], [924, 47],
  [105, 267], [670, 332], [924, 267],
  [260, 487], [515, 487], [924, 487],
];
// R text left x, R line center y, R² line center y
const rPos = [
  [288, 108, 130], [698, 108, 130], [1108, 50, 71],
  [288, 270, 291], [573, 270, 291], [1123, 335, 357],
  [303, 555, 577], [512, 540, 562], [921, 575, 596],
];
const expPos = [null, [763, 222], null, null, null, null, [88, 472], null, null];

const PAD_LEFT = 85;
const PAD_TOP = 36;
const PAD_RIGHT = 26;
const PAD_BOTTOM = 57;

function makeOverlay(i: number, cLeft: number, cTop: number) {
  return {
    id: 'overlay' + i,
    afterDraw(chart: any) {
      const ctx: CanvasRenderingContext2D = chart.ctx;
      const { left, right, top, bottom } = chart.chartArea;
      const xs = chart.scales.x;
      const ys = chart.scales.y;
      ctx.save();
      // inward tick marks
      ctx.strokeStyle = AXIS;
      ctx.lineWidth = 1;
      xTickValues[i].forEach((v) => {
        const px = Math.round(xs.getPixelForValue(v)) + 0.5;
        ctx.beginPath(); ctx.moveTo(px, bottom); ctx.lineTo(px, bottom - 3); ctx.stroke();
      });
      yTickValues[i].forEach((v) => {
        const py = Math.round(ys.getPixelForValue(v)) + 0.5;
        ctx.beginPath(); ctx.moveTo(left, py); ctx.lineTo(left + 3, py); ctx.stroke();
      });

      // axis titles
      ctx.fillStyle = TEXT;
      ctx.font = `bold 20px ${FONT}`;
      let maxW = 0;
      yTickLabels[i].forEach((s) => { maxW = Math.max(maxW, ctx.measureText(s).width); });
      ctx.font = `bold 22px ${FONT}`;
      ctx.textAlign = 'center';
      ctx.textBaseline = 'middle';
      ctx.fillText(xTitles[i], (left + right) / 2, bottom + 44);
      ctx.save();
      ctx.translate(left - 6 - maxW - 17, (top + bottom) / 2);
      ctx.rotate(-Math.PI / 2);
      ctx.fillText(yTitles[i], 0, 0);
      ctx.restore();

      // exponent label
      const ep = expPos[i];
      if (ep) {
        const ex = ep[0] - cLeft;
        const ey = ep[1] - cTop;
        ctx.textAlign = 'left';
        ctx.textBaseline = 'alphabetic';
        ctx.font = `20px ${FONT}`;
        const base = '×10';
        ctx.fillText(base, ex, ey);
        const w = ctx.measureText(base).width;
        ctx.font = `14px ${FONT}`;
        ctx.fillText(axisExponents[i], ex + w + 1, ey - 10);
      }

      // legend
      const lx = legendPos[i][0] - cLeft;
      const ly = legendPos[i][1] - cTop;
      const lw = 115, lh = 44;
      ctx.fillStyle = '#ffffff';
      ctx.fillRect(lx, ly, lw, lh);
      ctx.strokeStyle = '#8c8c8c';
      ctx.strokeRect(lx + 0.5, ly + 0.5, lw, lh);
      ctx.beginPath();
      ctx.arc(lx + 18, ly + 12, 4, 0, Math.PI * 2);
      ctx.fillStyle = TEAL_FILL; ctx.fill();
      ctx.strokeStyle = TEAL_EDGE; ctx.stroke();
      ctx.beginPath();
      ctx.arc(lx + 18, ly + 32, 4, 0, Math.PI * 2);
      ctx.fillStyle = '#ffffff'; ctx.fill();
      ctx.strokeStyle = ORANGE; ctx.stroke();
      ctx.fillStyle = TEXT;
      ctx.font = `bold 18px ${FONT}`;
      ctx.textAlign = 'left';
      ctx.textBaseline = 'middle';
      ctx.fillText(seriesNames[0], lx + 35, ly + 13);
      ctx.fillText(seriesNames[1], lx + 35, ly + 33);

      // R texts
      const rx = rPos[i][0] - cLeft;
      const ry1 = rPos[i][1] - cTop;
      const ry2 = rPos[i][2] - cTop;
      ctx.fillStyle = '#ff0000';
      ctx.font = `bold 14px ${FONT}`;
      ctx.fillText('R=' + rValues[i], rx, ry1);
      ctx.fillText('R', rx, ry2);
      const wR = ctx.measureText('R').width;
      ctx.font = `bold 10px ${FONT}`;
      ctx.fillText('2', rx + wR, ry2 - 5);
      const w2 = ctx.measureText('2').width;
      ctx.font = `bold 14px ${FONT}`;
      ctx.fillText('=' + r2Values[i], rx + wR + w2 + 0.5, ry2);
      ctx.restore();
    },
  };
}

function Panel({ i }: { i: number }) {
  const ref = useRef<HTMLCanvasElement>(null);
  const [L, T, R, B] = plotRects[i];
  const cLeft = L - PAD_LEFT;
  const cTop = T - PAD_TOP;
  const width = R - L + PAD_LEFT + PAD_RIGHT;
  const height = B - T + PAD_TOP + PAD_BOTTOM;

  useEffect(() => {
    if (!ref.current) return;
    const toData = (pts: Pt[]) => pts.map(([x, y]) => ({ x, y }));
    const chart = new Chart(ref.current, {
      type: 'scatter',
      data: {
        datasets: [
          {
            label: seriesNames[0],
            data: toData(awakeSeries[i]),
            backgroundColor: TEAL_FILL,
            borderColor: TEAL_EDGE,
            borderWidth: 1,
            pointRadius: 4,
            order: 1,
            clip: false as any,
          },
          {
            label: seriesNames[1],
            data: toData(sleepSeries[i]),
            backgroundColor: '#ffffff',
            borderColor: ORANGE,
            borderWidth: 1,
            pointRadius: 4,
            order: 0,
            clip: false as any,
          },
        ],
      },
      options: {
        animation: false,
        responsive: false,
        devicePixelRatio: 1,
        events: [],
        layout: { padding: { left: 0, top: PAD_TOP, right: PAD_RIGHT, bottom: 0 } },
        plugins: { legend: { display: false }, tooltip: { enabled: false } },
        scales: {
          x: {
            type: 'linear',
            min: xLimits[i][0],
            max: xLimits[i][1],
            grid: { display: true, drawOnChartArea: false, drawTicks: false },
            border: { display: true, color: AXIS, width: 1 },
            ticks: {
              autoSkip: false,
              maxRotation: 0,
              minRotation: 0,
              padding: 8,
              color: TEXT,
              font: { family: FONT, size: 20, weight: 'bold' },
              callback: (_v: any, idx: number) => xTickLabels[i][idx],
            },
            afterBuildTicks: (s: any) => { s.ticks = xTickValues[i].map((v) => ({ value: v })); },
            afterFit: (s: any) => { s.height = PAD_BOTTOM; },
          },
          y: {
            type: 'linear',
            min: yLimits[i][0],
            max: yLimits[i][1],
            grid: { display: true, drawOnChartArea: false, drawTicks: false },
            border: { display: true, color: AXIS, width: 1 },
            ticks: {
              autoSkip: false,
              padding: 6,
              color: TEXT,
              font: { family: FONT, size: 20, weight: 'bold' },
              callback: (_v: any, idx: number) => yTickLabels[i][idx],
            },
            afterBuildTicks: (s: any) => { s.ticks = yTickValues[i].map((v) => ({ value: v })); },
            afterFit: (s: any) => { s.width = PAD_LEFT; },
          },
        },
      } as any,
      plugins: [makeOverlay(i, cLeft, cTop)],
    });
    return () => chart.destroy();
  }, [i]);

  return (
    <canvas
      ref={ref}
      width={width}
      height={height}
      style={{ position: 'absolute', left: cLeft, top: cTop, width, height }}
    />
  );
}

export default function App() {
  return (
    <div style={{ position: 'absolute', left: 0, top: 0, width: 1246, height: 663, background: '#ffffff', overflow: 'hidden' }}>
      {plotRects.map((_, i) => <Panel key={i} i={i} />)}
    </div>
  );
}
